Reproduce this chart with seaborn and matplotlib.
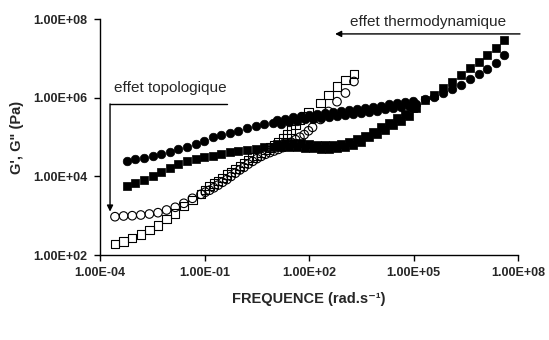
import matplotlib
matplotlib.use("Agg")
import matplotlib.pyplot as plt
import pandas as pd
import seaborn as sns
from matplotlib.ticker import FixedLocator, FuncFormatter, NullLocator

sns.set_theme(style="white")
plt.rcParams["font.family"] = ["Liberation Sans", "DejaVu Sans"]

# ---- master curves (frequency in rad/s, moduli in Pa) ----
# filled symbols: G'' (circles) and G' (squares) of the first material
freq_filled = [
    5.8e-4, 1.03e-3, 1.82e-3, 3.21e-3, 5.66e-3, 9.98e-3, 1.76e-2, 3.11e-2, 5.50e-2, 9.68e-2,
    0.171, 0.302, 0.532, 0.940, 1.66, 2.92, 5.16, 9.12,
    11.9, 15.6, 20.3, 26.4, 34.4, 44.8, 58.3, 76.0, 98.9, 129, 168, 219, 285, 371, 483, 629,
    819, 1070, 1390, 1810, 2360, 3070, 4000, 5210, 6780, 8830, 11500, 15000, 19500, 25400,
    33100, 43100, 56100, 73100, 95300, 116000,
    2.10e5, 3.81e5, 6.90e5, 1.25e6, 2.27e6, 4.11e6, 7.45e6, 1.26e7, 2.29e7, 3.88e7,
]
g2_filled = [
    2.47e4, 2.73e4, 3.00e4, 3.37e4, 3.79e4, 4.26e4, 4.91e4, 5.72e4, 6.58e4, 7.85e4,
    9.80e4, 1.135e5, 1.30e5, 1.46e5, 1.68e5, 1.87e5, 2.12e5, 2.36e5,
    2.78e5, 2.21e5, 2.98e5, 2.40e5, 3.28e5, 2.62e5, 3.54e5, 2.82e5, 3.75e5, 2.95e5, 3.94e5,
    3.09e5, 4.12e5, 3.28e5, 4.42e5, 3.50e5, 4.66e5, 3.66e5, 4.94e5, 3.94e5, 5.30e5, 4.15e5,
    5.52e5, 4.40e5, 5.93e5, 4.72e5, 6.36e5, 5.06e5, 6.82e5, 5.43e5, 7.45e5, 5.83e5, 7.85e5,
    6.32e5, 8.53e5, 6.87e5,
    9.37e5, 1.07e6, 1.36e6, 1.65e6, 2.13e6, 2.97e6, 3.98e6, 5.34e6, 7.59e6, 1.20e7,
]
g1_filled = [
    5.71e3, 6.69e3, 8.11e3, 1.03e4, 1.32e4, 1.67e4, 2.07e4, 2.47e4, 2.78e4, 3.07e4,
    3.41e4, 3.73e4, 4.07e4, 4.44e4, 4.71e4, 5.14e4, 5.46e4, 5.78e4,
    6.70e4, 5.46e4, 6.98e4, 5.58e4, 7.10e4, 5.61e4, 6.93e4, 5.36e4, 6.66e4, 5.17e4, 6.47e4,
    5.06e4, 6.31e4, 5.00e4, 6.35e4, 5.17e4, 6.78e4, 5.61e4, 7.66e4, 6.43e4, 8.93e4, 7.62e4,
    1.10e5, 9.80e4, 1.39e5, 1.20e5, 1.77e5, 1.54e5, 2.31e5, 2.01e5, 3.01e5, 2.61e5, 3.91e5,
    3.54e5, 5.62e5, 5.52e5,
    8.83e5, 1.18e6, 1.75e6, 2.58e6, 3.82e6, 5.66e6, 8.34e6, 1.24e7, 1.83e7, 2.98e7,
]

# open symbols: G'' (circles) and G' (squares) of the second material
freq_open = [
    2.69e-4, 4.75e-4, 8.39e-4, 1.48e-3, 2.61e-3, 4.61e-3, 8.13e-3, 1.44e-2, 2.54e-2, 4.48e-2,
    7.89e-2, 0.105, 0.139, 0.185, 0.246, 0.327, 0.434, 0.576, 0.766, 1.02, 1.35, 1.79, 2.39,
    3.17, 4.21, 5.59, 7.43, 9.87, 13.1, 17.4, 23.1, 30.7, 40.8, 54.2, 72.1, 95.7,
    125, 211, 359, 629, 1100, 1930,
]
g2_open = [
    944, 984, 1001, 1043, 1106, 1194, 1399, 1638, 2070, 2775,
    3510, 3970, 4460, 5140, 6020, 7100, 8310, 1.00e4, 1.21e4, 1.46e4, 1.70e4, 2.06e4, 2.42e4,
    2.83e4, 3.24e4, 3.66e4, 4.05e4, 4.44e4, 4.88e4, 5.42e4, 6.35e4, 7.40e4, 8.61e4, 1.00e5,
    1.16e5, 1.45e5,
    1.78e5, 2.82e5, 4.50e5, 8.00e5, 1.33e6, 2.61e6,
]
g1_open = [
    191, 219, 271, 334, 430, 564, 826, 1140, 1770, 2470,
    3570, 4460, 5640, 6570, 7700, 9180, 1.11e4, 1.30e4, 1.54e4, 1.87e4, 2.22e4, 2.61e4, 3.05e4,
    3.41e4, 3.93e4, 4.63e4, 5.42e4, 6.35e4, 7.62e4, 9.35e4, 1.20e5, 1.57e5, 2.09e5, 2.77e5,
    3.50e5, 4.37e5,
    None, 7.41e5, 1.20e6, 1.95e6, 2.88e6, 4.10e6,
]

x_ticks = [1e-4, 1e-1, 1e2, 1e5, 1e8]
y_ticks = [1e2, 1e4, 1e6, 1e8]

filled = pd.DataFrame({"freq": freq_filled, "g1": g1_filled, "g2": g2_filled})
opened = pd.DataFrame({"freq": freq_open, "g1": g1_open, "g2": g2_open})

fig = plt.figure(figsize=(5.49, 3.40), dpi=100)
ax = fig.add_axes([100 / 549, 1 - 255 / 340, 418.3 / 549, 235.7 / 340])
ax.set_xscale("log")
ax.set_yscale("log")

sns.scatterplot(data=opened, x="freq", y="g2", marker="o", s=38, facecolor="none",
                edgecolor="black", linewidth=0.8, ax=ax, zorder=2)
sns.scatterplot(data=opened.dropna(), x="freq", y="g1", marker="s", s=36, facecolor="none",
                edgecolor="black", linewidth=0.8, ax=ax, zorder=2)
sns.scatterplot(data=filled, x="freq", y="g1", marker="s", s=34, color="black",
                edgecolor="black", linewidth=0.5, ax=ax, zorder=3)
sns.scatterplot(data=filled, x="freq", y="g2", marker="o", s=38, color="black",
                edgecolor="black", linewidth=0.5, ax=ax, zorder=3)

ax.set_xlim(1e-4, 1e8)
ax.set_ylim(1e2, 1e8)
fmt = FuncFormatter(lambda v, _: f"{v:.2E}")
ax.xaxis.set_major_locator(FixedLocator(x_ticks))
ax.yaxis.set_major_locator(FixedLocator(y_ticks))
ax.xaxis.set_minor_locator(NullLocator())
ax.yaxis.set_minor_locator(NullLocator())
ax.xaxis.set_major_formatter(fmt)
ax.yaxis.set_major_formatter(fmt)
ax.tick_params(axis="both", which="major", direction="out", length=4, width=1,
               color="black", labelsize=9, pad=5, left=True, bottom=True)
for lab in ax.get_xticklabels() + ax.get_yticklabels():
    lab.set_fontweight("bold")

for side in ("top", "right"):
    ax.spines[side].set_visible(False)
for side in ("left", "bottom"):
    ax.spines[side].set_color("black")
    ax.spines[side].set_linewidth(1)

ax.set_xlabel("FREQUENCE (rad.s\u207b\u00b9)", fontsize=10.5, fontweight="bold",
              labelpad=9)
ax.set_ylabel("G', G\" (Pa)", fontsize=10.5, fontweight="bold", labelpad=7)

arrow = dict(arrowstyle="-|>", color="black", lw=1, mutation_scale=9,
             shrinkA=0, shrinkB=0)
# shift towards low frequencies
ax.annotate("", xy=(0.562, 0.938), xytext=(1.004, 0.938), xycoords="axes fraction",
            arrowprops=arrow, annotation_clip=False)
ax.text(0.784, 0.99, "effet thermodynamique", transform=ax.transAxes,
        ha="center", va="center", fontsize=11)
# drop in modulus at low frequency
ax.plot([0.303, 0.024], [0.641, 0.641], transform=ax.transAxes, color="black",
        lw=1, clip_on=False)
ax.annotate("", xy=(0.024, 0.184), xytext=(0.024, 0.641), xycoords="axes fraction",
            arrowprops=arrow, annotation_clip=False)
ax.text(0.167, 0.707, "effet topologique", transform=ax.transAxes,
        ha="center", va="center", fontsize=11)

fig.savefig("out.png", dpi=100)
